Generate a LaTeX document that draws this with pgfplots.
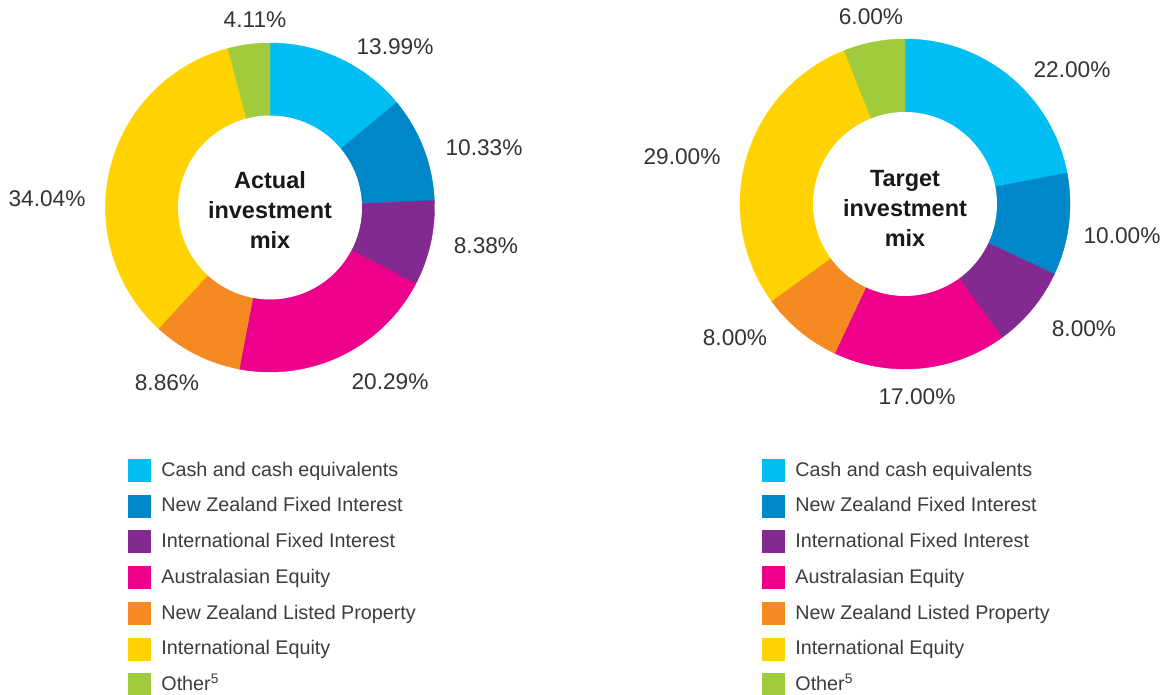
\documentclass[border=0pt]{standalone}
\usepackage{pgfplots}
\pgfplotsset{compat=1.18}
\usepackage{pgfplotstable}
\usepackage{fontspec}
\setmainfont{Liberation Sans}
\definecolor{cCash}{HTML}{00BDF2}
\definecolor{cNZFI}{HTML}{0087C9}
\definecolor{cIFI}{HTML}{822A8F}
\definecolor{cAus}{HTML}{EC008C}
\definecolor{cNZLP}{HTML}{F58A22}
\definecolor{cIntl}{HTML}{FFD200}
\definecolor{cOther}{HTML}{9FCB3C}
\definecolor{lbl}{HTML}{333333}
\definecolor{legtxt}{HTML}{3C3C3C}

\pgfplotstableread{
pct col
13.99 cCash
10.33 cNZFI
8.38 cIFI
20.29 cAus
8.86 cNZLP
34.04 cIntl
4.11 cOther
}\actualtbl
\pgfplotstableread{
pct col
22 cCash
10 cNZFI
8 cIFI
17 cAus
8 cNZLP
29 cIntl
6 cOther
}\targettbl

% #1 table, #2 cx, #3 cy, #4 outer R, #5 inner r
\newcommand\donut[5]{%
  \gdef\cum{0}%
  \pgfplotstablegetrowsof{#1}%
  \pgfmathtruncatemacro\nrows{\pgfplotsretval-1}%
  \foreach \i in {0,...,\nrows}{%
    \pgfplotstablegetelem{\i}{pct}\of{#1}\let\slicepct\pgfplotsretval
    \pgfplotstablegetelem{\i}{col}\of{#1}\let\slicecol\pgfplotsretval
    \pgfmathsetmacro\aA{90-3.6*\cum}%
    \pgfmathsetmacro\aB{90-3.6*(\cum+\slicepct)}%
    \edef\tmp{\noexpand\addplot[fill=\slicecol, draw=\slicecol, line width=0.3pt, domain=\aB:\aA, samples=60, variable=\noexpand\t] ({#2+#4*cos(\noexpand\t)},{#3+#4*sin(\noexpand\t)}) -- (#2,#3) -- cycle;}%
    \tmp
    \pgfmathsetmacro\newcum{\cum+\slicepct}\xdef\cum{\newcum}%
  }%
  \edef\tmp{\noexpand\addplot[fill=white, draw=none, forget plot, domain=0:360, samples=120, variable=\noexpand\t] ({#2+#5*cos(\noexpand\t)},{#3+#5*sin(\noexpand\t)}) -- cycle;}\tmp
}

\pgfplotsset{
  donutaxis/.style={
    x=0.75pt, y=0.75pt, ymin=0, ymax=695,
    hide axis, scale only axis, clip=false,
    legend cell align=left,
    legend image code/.code={\fill[##1] (0pt,-8.25pt) rectangle (16.5pt,8.25pt);},
    legend style={draw=none, fill=none, inner sep=0pt, outer sep=0pt,
      anchor=north west, row sep=10pt, column sep=8.25pt,
      font=\fontsize{14.8}{17}\selectfont\color{legtxt},
      nodes={inner sep=0pt, text height=11pt, text depth=2pt}},
    legend entries={Cash and cash equivalents, New Zealand Fixed Interest, International Fixed Interest, Australasian Equity, New Zealand Listed Property, International Equity, Other\textsuperscript{5}},
  },
}
\tikzset{
  pctlbl/.style={font=\fontsize{17}{20}\selectfont, text=lbl, anchor=center, inner sep=0pt},
  ctrlbl/.style={font=\fontsize{17.6}{22.5}\selectfont\bfseries, text=black!90, align=center, anchor=center},
}

\begin{document}
\begin{tikzpicture}
\begin{axis}[donutaxis, xmin=0, xmax=582.5, at={(0pt,0pt)}, anchor=south west,
  legend style={at={(axis cs:128,236)}}]
  \donut{\actualtbl}{270}{487.5}{164.5}{92}
  \node[ctrlbl] at (axis cs:270,485) {Actual\\investment\\mix};
  \node[pctlbl] at (axis cs:395,648) {13.99\%};
  \node[pctlbl] at (axis cs:484,547) {10.33\%};
  \node[pctlbl] at (axis cs:486,449) {8.38\%};
  \node[pctlbl] at (axis cs:390,313) {20.29\%};
  \node[pctlbl] at (axis cs:167,312) {8.86\%};
  \node[pctlbl] at (axis cs:47,496) {34.04\%};
  \node[pctlbl] at (axis cs:255,675) {4.11\%};
\end{axis}
\begin{axis}[donutaxis, xmin=582.5, xmax=1165, at={(436.875pt,0pt)}, anchor=south west,
  legend style={at={(axis cs:762,236)}}]
  \donut{\targettbl}{905}{491}{165}{92}
  \node[ctrlbl] at (axis cs:905,487) {Target\\investment\\mix};
  \node[pctlbl] at (axis cs:1072,625) {22.00\%};
  \node[pctlbl] at (axis cs:1122,459) {10.00\%};
  \node[pctlbl] at (axis cs:1084,366) {8.00\%};
  \node[pctlbl] at (axis cs:917,298) {17.00\%};
  \node[pctlbl] at (axis cs:735,357) {8.00\%};
  \node[pctlbl] at (axis cs:682,538) {29.00\%};
  \node[pctlbl] at (axis cs:871,678) {6.00\%};
\end{axis}
\pgfresetboundingbox
\useasboundingbox (0pt,0pt) rectangle (873.75pt,521.25pt);
\end{tikzpicture}
\end{document}
